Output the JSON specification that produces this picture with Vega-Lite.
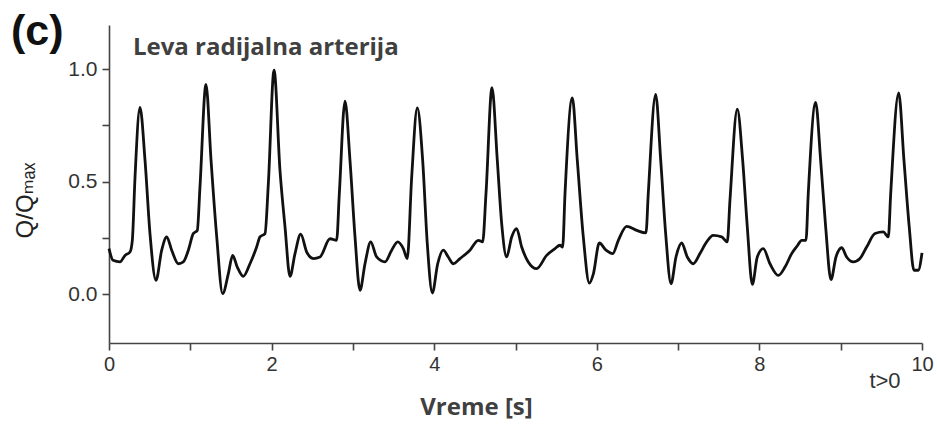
{
  "$schema": "https://vega.github.io/schema/vega-lite/v6.json",
  "width": 813,
  "height": 318,
  "autosize": {"type": "none"},
  "padding": {"left": 109, "top": 25, "right": 15, "bottom": 82},
  "background": "white",
  "config": {"view": {"stroke": null}},
  "layer": [
    {
      "data": {"values": [
        {"t": 0.0, "q": 0.203}, {"t": 0.05, "q": 0.151}, {"t": 0.135, "q": 0.144}, {"t": 0.197, "q": 0.173},
        {"t": 0.258, "q": 0.188}, {"t": 0.287, "q": 0.24}, {"t": 0.32, "q": 0.52}, {"t": 0.381, "q": 0.83},
        {"t": 0.443, "q": 0.596}, {"t": 0.504, "q": 0.27}, {"t": 0.578, "q": 0.062}, {"t": 0.648, "q": 0.196},
        {"t": 0.71, "q": 0.255}, {"t": 0.771, "q": 0.196}, {"t": 0.853, "q": 0.136}, {"t": 0.914, "q": 0.144},
        {"t": 0.976, "q": 0.196}, {"t": 1.037, "q": 0.27}, {"t": 1.086, "q": 0.284}, {"t": 1.119, "q": 0.477},
        {"t": 1.193, "q": 0.932}, {"t": 1.255, "q": 0.596}, {"t": 1.325, "q": 0.255}, {"t": 1.398, "q": 0.003},
        {"t": 1.468, "q": 0.092}, {"t": 1.521, "q": 0.173}, {"t": 1.578, "q": 0.121}, {"t": 1.652, "q": 0.08},
        {"t": 1.734, "q": 0.136}, {"t": 1.816, "q": 0.21}, {"t": 1.857, "q": 0.255}, {"t": 1.919, "q": 0.27},
        {"t": 1.96, "q": 0.492}, {"t": 2.03, "q": 0.995}, {"t": 2.103, "q": 0.551}, {"t": 2.165, "q": 0.3},
        {"t": 2.226, "q": 0.08}, {"t": 2.288, "q": 0.181}, {"t": 2.358, "q": 0.267}, {"t": 2.432, "q": 0.188},
        {"t": 2.513, "q": 0.159}, {"t": 2.595, "q": 0.166}, {"t": 2.718, "q": 0.247}, {"t": 2.8, "q": 0.24},
        {"t": 2.833, "q": 0.447}, {"t": 2.903, "q": 0.858}, {"t": 2.964, "q": 0.596}, {"t": 3.026, "q": 0.255},
        {"t": 3.087, "q": 0.018}, {"t": 3.149, "q": 0.136}, {"t": 3.219, "q": 0.233}, {"t": 3.292, "q": 0.166},
        {"t": 3.395, "q": 0.144}, {"t": 3.477, "q": 0.196}, {"t": 3.551, "q": 0.233}, {"t": 3.62, "q": 0.203},
        {"t": 3.669, "q": 0.159}, {"t": 3.723, "q": 0.52}, {"t": 3.792, "q": 0.828}, {"t": 3.858, "q": 0.596},
        {"t": 3.915, "q": 0.225}, {"t": 3.977, "q": 0.006}, {"t": 4.043, "q": 0.136}, {"t": 4.112, "q": 0.196},
        {"t": 4.173, "q": 0.166}, {"t": 4.235, "q": 0.136}, {"t": 4.317, "q": 0.159}, {"t": 4.44, "q": 0.196},
        {"t": 4.542, "q": 0.24}, {"t": 4.596, "q": 0.233}, {"t": 4.637, "q": 0.447}, {"t": 4.711, "q": 0.918},
        {"t": 4.776, "q": 0.596}, {"t": 4.83, "q": 0.314}, {"t": 4.891, "q": 0.166}, {"t": 4.953, "q": 0.255},
        {"t": 5.014, "q": 0.292}, {"t": 5.076, "q": 0.21}, {"t": 5.157, "q": 0.144}, {"t": 5.26, "q": 0.114},
        {"t": 5.383, "q": 0.173}, {"t": 5.486, "q": 0.203}, {"t": 5.547, "q": 0.218}, {"t": 5.58, "q": 0.21},
        {"t": 5.609, "q": 0.447}, {"t": 5.699, "q": 0.872}, {"t": 5.76, "q": 0.596}, {"t": 5.834, "q": 0.255},
        {"t": 5.908, "q": 0.05}, {"t": 5.957, "q": 0.09}, {"t": 6.031, "q": 0.228}, {"t": 6.113, "q": 0.196},
        {"t": 6.196, "q": 0.181}, {"t": 6.265, "q": 0.24}, {"t": 6.367, "q": 0.302}, {"t": 6.49, "q": 0.284},
        {"t": 6.605, "q": 0.273}, {"t": 6.633, "q": 0.447}, {"t": 6.724, "q": 0.888}, {"t": 6.786, "q": 0.596},
        {"t": 6.847, "q": 0.27}, {"t": 6.913, "q": 0.047}, {"t": 6.974, "q": 0.166}, {"t": 7.044, "q": 0.228},
        {"t": 7.113, "q": 0.166}, {"t": 7.187, "q": 0.136}, {"t": 7.269, "q": 0.181}, {"t": 7.351, "q": 0.233},
        {"t": 7.432, "q": 0.262}, {"t": 7.536, "q": 0.255}, {"t": 7.605, "q": 0.233}, {"t": 7.638, "q": 0.418},
        {"t": 7.728, "q": 0.822}, {"t": 7.794, "q": 0.596}, {"t": 7.851, "q": 0.3}, {"t": 7.913, "q": 0.044},
        {"t": 7.974, "q": 0.166}, {"t": 8.048, "q": 0.203}, {"t": 8.13, "q": 0.136}, {"t": 8.233, "q": 0.084},
        {"t": 8.315, "q": 0.121}, {"t": 8.397, "q": 0.181}, {"t": 8.471, "q": 0.218}, {"t": 8.52, "q": 0.24},
        {"t": 8.573, "q": 0.24}, {"t": 8.601, "q": 0.447}, {"t": 8.692, "q": 0.852}, {"t": 8.753, "q": 0.596},
        {"t": 8.815, "q": 0.3}, {"t": 8.88, "q": 0.065}, {"t": 8.942, "q": 0.166}, {"t": 9.012, "q": 0.207},
        {"t": 9.073, "q": 0.166}, {"t": 9.155, "q": 0.144}, {"t": 9.237, "q": 0.159}, {"t": 9.319, "q": 0.21},
        {"t": 9.422, "q": 0.27}, {"t": 9.524, "q": 0.277}, {"t": 9.586, "q": 0.255}, {"t": 9.615, "q": 0.447},
        {"t": 9.713, "q": 0.895}, {"t": 9.778, "q": 0.596}, {"t": 9.843, "q": 0.3}, {"t": 9.901, "q": 0.107},
        {"t": 9.954, "q": 0.107}, {"t": 10.0, "q": 0.184}
      ]},
      "mark": {"type": "line", "interpolate": "monotone", "color": "#111111", "strokeWidth": 2.8},
      "encoding": {
        "x": {
          "field": "t", "type": "quantitative",
          "scale": {"domain": [0, 10], "nice": false, "zero": false},
          "axis": {
            "values": [0, 1, 2, 3, 4, 5, 6, 7, 8, 9, 10],
            "format": "d",
            "labelExpr": "datum.value % 2 == 0 ? datum.label : ''",
            "grid": false,
            "domainColor": "#444444", "domainWidth": 1.6,
            "tickColor": "#444444", "tickWidth": 1.6, "tickSize": 7,
            "labelFont": "Liberation Sans", "labelFontSize": 20, "labelColor": "#333333", "labelPadding": 4,
            "labelFlush": false,
            "title": "Vreme [s]",
            "titleFont": "Open Sans", "titleFontSize": 24, "titleFontWeight": "bold", "titleColor": "#404040",
            "titleX": 367, "titleY": 71, "titleBaseline": "alphabetic", "titleAlign": "center"
          }
        },
        "y": {
          "field": "q", "type": "quantitative",
          "scale": {"domain": [-0.216, 1.196], "nice": false, "zero": false},
          "axis": {
            "values": [0, 0.25, 0.5, 0.75, 1.0],
            "labelExpr": "datum.value * 2 % 1 == 0 ? format(datum.value, '.1f') : ''",
            "grid": false,
            "domainColor": "#444444", "domainWidth": 1.6,
            "tickColor": "#444444", "tickWidth": 1.6, "tickSize": 7,
            "labelFont": "Liberation Sans", "labelFontSize": 21, "labelColor": "#333333", "labelPadding": 5,
            "labelFlush": false,
            "title": "Q/Qₘₐₓ",
            "titleFont": "Liberation Sans, DejaVu Sans", "titleFontSize": 24, "titleFontWeight": "normal", "titleColor": "#222222",
            "titleX": -84, "titleY": 175, "titleBaseline": "middle", "titleAlign": "center", "titleAngle": -90
          }
        }
      }
    },
    {
      "data": {"values": [{"label": "Leva radijalna arterija"}]},
      "mark": {"type": "text", "font": "Open Sans", "fontWeight": "bold", "fontSize": 24, "color": "#404040", "align": "left", "baseline": "alphabetic"},
      "encoding": {"text": {"field": "label"}, "x": {"datum": 0.295}, "y": {"datum": 1.062}}
    },
    {
      "data": {"values": [{"label": "(c)"}]},
      "mark": {"type": "text", "font": "Liberation Sans", "fontWeight": "bold", "fontSize": 43, "color": "#111111", "align": "left", "baseline": "alphabetic"},
      "encoding": {"text": {"field": "label"}, "x": {"datum": -1.205}, "y": {"datum": 1.107}}
    },
    {
      "data": {"values": [{"label": "t>0"}]},
      "mark": {"type": "text", "font": "Liberation Sans", "fontSize": 22, "color": "#333333", "align": "center", "baseline": "alphabetic"},
      "encoding": {"text": {"field": "label"}, "x": {"datum": 9.545}, "y": {"datum": -0.418}}
    }
  ]
}
